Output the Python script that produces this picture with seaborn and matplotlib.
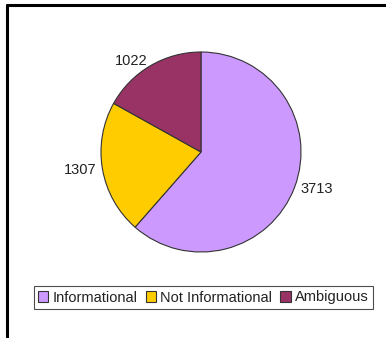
import matplotlib
matplotlib.use("Agg")
import matplotlib.pyplot as plt
import seaborn as sns
from matplotlib.lines import Line2D
from matplotlib.patches import Patch

sns.set_theme(style="white")
plt.rcParams['font.family'] = ['Liberation Sans', 'DejaVu Sans']

categories = ["Informational", "Not Informational", "Ambiguous"]
values = [3713, 1307, 1022]
colors = ["#CC99FF", "#FFCC00", "#993366"]

W, H = 386, 338
fig = plt.figure(figsize=(W / 100, H / 100), dpi=100)
fig.patch.set_facecolor("white")

# pie axes: center (201,152) radius 100 px
cx, cy, r = 201, 152, 100
ax = fig.add_axes([(cx - r) / W, (H - cy - r) / H, 2 * r / W, 2 * r / H])
wedges, texts = ax.pie(values, labels=[str(v) for v in values], colors=colors,
                       startangle=90, counterclock=False, labeldistance=1.06,
                       wedgeprops=dict(edgecolor="#333333", linewidth=0.8),
                       textprops=dict(fontsize=10.5, color="#222222"))
ax.set_xlim(-1, 1)
ax.set_ylim(-1, 1)
ax.set_aspect("equal")
ax.axis("off")

handles = [Patch(facecolor=c, edgecolor="#333333", linewidth=0.8, label=l)
           for c, l in zip(colors, categories)]
leg = fig.legend(handles=handles, loc="center", ncol=3,
                 bbox_to_anchor=((36 + 371) / 2 / W, 1 - 297.5 / H),
                 frameon=True, fancybox=False, fontsize=10.5,
                 handlelength=0.7, handleheight=0.7, handletextpad=0.3,
                 columnspacing=0.55, borderpad=0.3, borderaxespad=0)
leg.get_frame().set_edgecolor("#222222")
leg.get_frame().set_linewidth(0.8)
for t in leg.get_texts():
    t.set_color("#222222")

# outer frame lines (top and left)
fig.add_artist(Line2D([7 / W, 1], [1 - 5 / H, 1 - 5 / H], color="black", linewidth=2.2, transform=fig.transFigure))
fig.add_artist(Line2D([7 / W, 7 / W], [0, 1 - 5 / H], color="black", linewidth=2.2, transform=fig.transFigure))

fig.savefig("out.png", dpi=100, facecolor="white")
